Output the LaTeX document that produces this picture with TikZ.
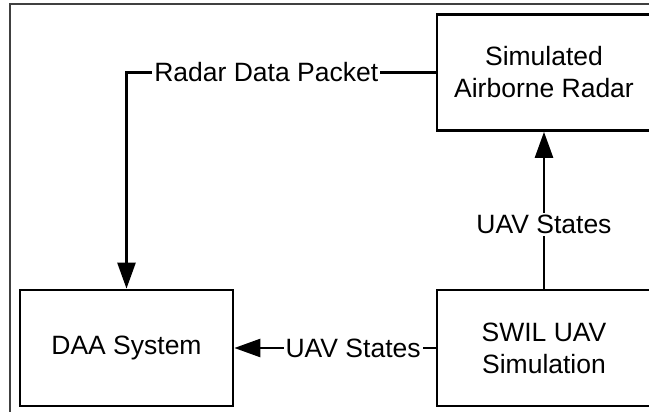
\documentclass[tikz,border=0pt]{standalone}
\usepackage{fontspec}
\setmainfont{Liberation Sans}
\usetikzlibrary{arrows.meta}
\begin{document}
\begin{tikzpicture}[x=1pt,y=-1pt,
  block/.style={draw=black,line width=2.7pt,fill=white,minimum width=214pt,minimum height=116pt,
    align=center,inner sep=0pt,font=\fontsize{26.5}{32}\selectfont},
  link/.style={line width=2.6pt,-{Triangle[length=26pt,width=18pt]}},
  tag/.style={fill=white,inner sep=2pt,font=\fontsize{26.5}{32}\selectfont}]
  \useasboundingbox (0,0) rectangle (649,412);
  % outer frame
  \draw[line width=1.2pt,black!75] (649,4) -- (10,4) -- (10,412);
  % blocks
  \node[block] (radar) at (544,72.5) {Simulated\\Airborne Radar};
  \node[block] (swil) at (544,348) {SWIL UAV\\Simulation};
  \node[block,minimum width=213pt] (daa) at (126.5,348) {DAA System};
  % connectors
  \draw[link] (radar.west) -| node[tag,pos=0.274] {Radar Data Packet} (daa.north);
  \draw[link] (swil.north) -- node[tag,pos=0.41] {UAV States} (radar.south);
  \draw[link] (swil.west) -- node[tag,pos=0.41] {UAV States} (daa.east);
\end{tikzpicture}
\end{document}
